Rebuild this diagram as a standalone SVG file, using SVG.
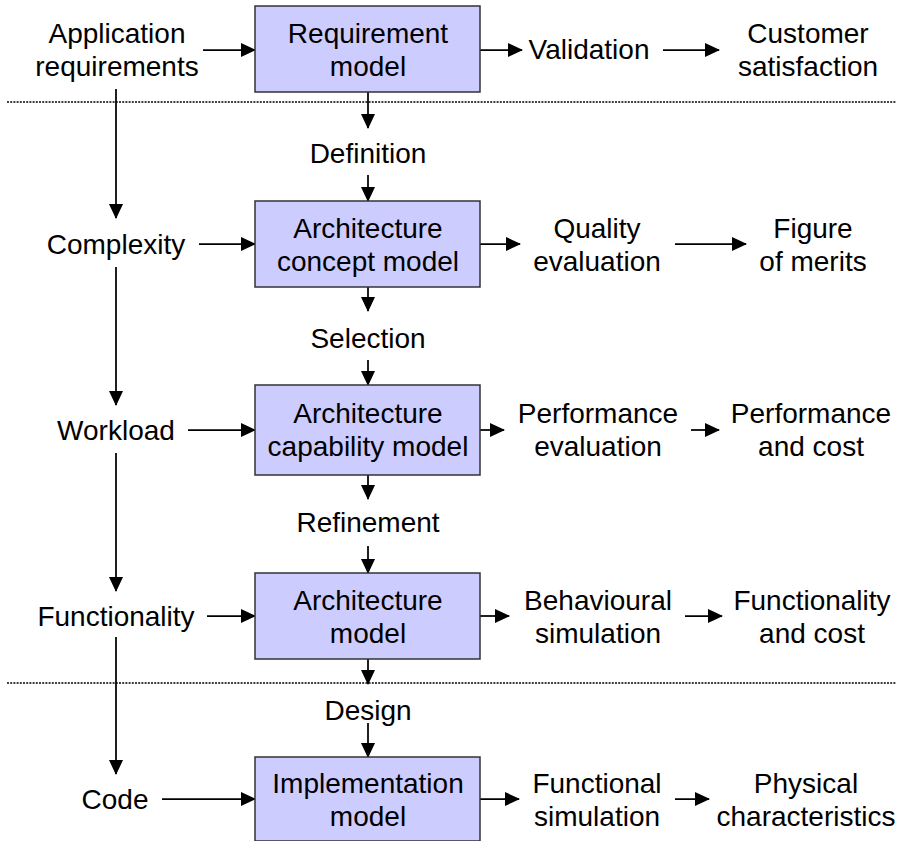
<svg xmlns="http://www.w3.org/2000/svg" width="906" height="841" viewBox="0 0 906 841">
  <style>
    text { font-family: "Liberation Sans", Arial, sans-serif; font-size: 28px; fill: #000; text-anchor: middle; }
    .box { fill: #ccccff; stroke: #333; stroke-width: 1.5; }
    .conn line { stroke: #000; stroke-width: 1.75; fill: none; }
    .conn line.arr { marker-end: url(#head); }
    .sep { stroke: #000; stroke-width: 1.5; stroke-dasharray: 2 1.2; }
  </style>
  <defs>
    <marker id="head" markerUnits="userSpaceOnUse" viewBox="0 0 15 14" refX="14" refY="7" markerWidth="15" markerHeight="14" orient="auto">
      <path d="M0,0 L15,7 L0,14 z" fill="#000"/>
    </marker>
  </defs>

  <rect width="906" height="841" fill="#fff"/>

  <!-- phase separators -->
  <line class="sep" x1="7" y1="102" x2="896" y2="102"/>
  <line class="sep" x1="7" y1="683" x2="896" y2="683"/>

  <!-- connectors -->
  <g id="connectors" class="conn">
    <!-- row 1 -->
    <line class="arr" x1="203" y1="50" x2="255" y2="50"/>
    <line class="arr" x1="480" y1="50" x2="522" y2="50"/>
    <line class="arr" x1="663" y1="50" x2="719" y2="50"/>
    <!-- row 2 -->
    <line class="arr" x1="199" y1="244" x2="255" y2="244"/>
    <line class="arr" x1="480" y1="244" x2="520" y2="244"/>
    <line class="arr" x1="675" y1="244" x2="746" y2="244"/>
    <!-- row 3 -->
    <line class="arr" x1="188" y1="430" x2="255" y2="430"/>
    <line class="arr" x1="480" y1="430" x2="504" y2="430"/>
    <line class="arr" x1="691" y1="430" x2="719" y2="430"/>
    <!-- row 4 -->
    <line class="arr" x1="207" y1="616" x2="255" y2="616"/>
    <line class="arr" x1="480" y1="616" x2="509" y2="616"/>
    <line class="arr" x1="685" y1="616" x2="722" y2="616"/>
    <!-- row 5 -->
    <line class="arr" x1="162" y1="799" x2="255" y2="799"/>
    <line class="arr" x1="480" y1="799" x2="519" y2="799"/>
    <line class="arr" x1="675" y1="799" x2="709" y2="799"/>
    <!-- centre column -->
    <line class="arr" x1="368" y1="92" x2="368" y2="128"/>
    <line class="arr" x1="368" y1="175" x2="368" y2="201"/>
    <line class="arr" x1="368" y1="287" x2="368" y2="311"/>
    <line class="arr" x1="368" y1="360" x2="368" y2="385"/>
    <line class="arr" x1="368" y1="475" x2="368" y2="499"/>
    <line class="arr" x1="368" y1="546" x2="368" y2="573"/>
    <line class="arr" x1="368" y1="659" x2="368" y2="684"/>
    <line class="arr" x1="368" y1="723" x2="368" y2="757"/>
    <!-- left column -->
    <line class="arr" x1="116" y1="89" x2="116" y2="218"/>
    <line class="arr" x1="116" y1="267" x2="116" y2="405"/>
    <line class="arr" x1="116" y1="453" x2="116" y2="591"/>
    <line class="arr" x1="116" y1="637" x2="116" y2="774"/>
  </g>

  <!-- model boxes -->
  <g id="requirement-model">
    <rect class="box" x="255" y="6" width="225" height="86"/>
    <text x="368" y="43">Requirement</text>
    <text x="368" y="76">model</text>
  </g>
  <g id="architecture-concept-model">
    <rect class="box" x="255" y="201" width="225" height="86"/>
    <text x="368" y="238">Architecture</text>
    <text x="368" y="271">concept model</text>
  </g>
  <g id="architecture-capability-model">
    <rect class="box" x="255" y="385" width="225" height="90"/>
    <text x="368" y="423">Architecture</text>
    <text x="368" y="456">capability model</text>
  </g>
  <g id="architecture-model">
    <rect class="box" x="255" y="573" width="225" height="86"/>
    <text x="368" y="610">Architecture</text>
    <text x="368" y="643">model</text>
  </g>
  <g id="implementation-model">
    <rect class="box" x="255" y="757" width="225" height="84"/>
    <text x="368" y="793">Implementation</text>
    <text x="368" y="826">model</text>
  </g>

  <!-- inputs (left column) -->
  <g id="application-requirements">
    <text x="117" y="43">Application</text>
    <text x="117" y="76">requirements</text>
  </g>
  <g id="complexity"><text x="116" y="254">Complexity</text></g>
  <g id="workload"><text x="116" y="440">Workload</text></g>
  <g id="functionality"><text x="116" y="626">Functionality</text></g>
  <g id="code"><text x="115" y="809">Code</text></g>

  <!-- transitions (centre column) -->
  <g id="definition"><text x="368" y="163">Definition</text></g>
  <g id="selection"><text x="368" y="348">Selection</text></g>
  <g id="refinement"><text x="368" y="532">Refinement</text></g>
  <g id="design"><text x="368" y="720">Design</text></g>

  <!-- evaluations -->
  <g id="validation"><text x="589" y="59">Validation</text></g>
  <g id="quality-evaluation">
    <text x="597" y="238">Quality</text>
    <text x="597" y="271">evaluation</text>
  </g>
  <g id="performance-evaluation">
    <text x="598" y="423">Performance</text>
    <text x="598" y="456">evaluation</text>
  </g>
  <g id="behavioural-simulation">
    <text x="598" y="610">Behavioural</text>
    <text x="598" y="643">simulation</text>
  </g>
  <g id="functional-simulation">
    <text x="597" y="793">Functional</text>
    <text x="597" y="826">simulation</text>
  </g>

  <!-- results -->
  <g id="customer-satisfaction">
    <text x="808" y="43">Customer</text>
    <text x="808" y="76">satisfaction</text>
  </g>
  <g id="figure-of-merits">
    <text x="813" y="238">Figure</text>
    <text x="813" y="271">of merits</text>
  </g>
  <g id="performance-and-cost">
    <text x="811" y="423">Performance</text>
    <text x="811" y="456">and cost</text>
  </g>
  <g id="functionality-and-cost">
    <text x="812" y="610">Functionality</text>
    <text x="812" y="643">and cost</text>
  </g>
  <g id="physical-characteristics">
    <text x="806" y="793">Physical</text>
    <text x="806" y="826">characteristics</text>
  </g>
</svg>
